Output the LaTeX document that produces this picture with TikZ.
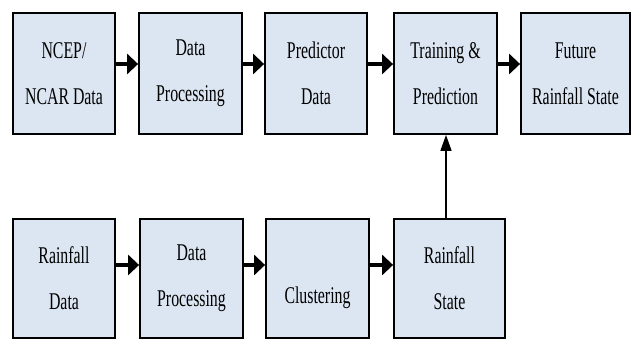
\documentclass[tikz,border=0pt]{standalone}
\usepackage{fontspec}
\setmainfont[FakeStretch=0.66]{Liberation Serif}
\usetikzlibrary{arrows.meta}
\definecolor{boxfill}{RGB}{220,230,242}
\tikzset{
  stepbox/.style={draw=black, line width=1.8pt, fill=boxfill, inner sep=0pt,
    align=center, font=\fontsize{24}{46}\selectfont},
  flowarr/.style={line width=4.5pt, -{Triangle[width=20pt,length=11pt]}},
  uparr/.style={line width=1.6pt, -{Triangle[width=11pt,length=16pt]}}
}
\begin{document}
\begin{tikzpicture}[x=1pt,y=1pt]
\fill[white] (0,0) rectangle (632,340);
\useasboundingbox (0,0) rectangle (632,340);
% top row
\node[stepbox, minimum width=102pt, minimum height=121pt] (n1) at (64,266.5) {NCEP/\\NCAR Data};
\node[stepbox, minimum width=103pt, minimum height=121pt] (n2) at (190.5,266.5) {Data\\Processing};
\node[stepbox, minimum width=102pt, minimum height=121pt] (n3) at (316,266.5) {Predictor\\Data};
\node[stepbox, minimum width=103pt, minimum height=121pt] (n4) at (445.5,266.5) {Training \&\\Prediction};
\node[stepbox, minimum width=109pt, minimum height=121pt] (n5) at (575.5,266.5) {Future\\Rainfall State};
% bottom row
\node[stepbox, minimum width=102pt, minimum height=119pt] (m1) at (64,61.5) {Rainfall\\Data};
\node[stepbox, minimum width=103pt, minimum height=119pt] (m2) at (191.5,61.5) {Data\\Processing};
\node[stepbox, minimum width=103pt, minimum height=119pt, text height=0pt, text depth=0pt] (m3) at (317.5,61.5) {\raisebox{-25pt}{Clustering}};
\node[stepbox, minimum width=111pt, minimum height=119pt] (m4) at (449.5,61.5) {\fontsize{24}{39}\selectfont Rainfall\\State};
% arrows top
\draw[flowarr] ([yshift=9.5pt]n1.east) -- ([yshift=9.5pt]n2.west);
\draw[flowarr] ([yshift=9.5pt]n2.east) -- ([yshift=9.5pt]n3.west);
\draw[flowarr] ([yshift=9.5pt]n3.east) -- ([yshift=9.5pt]n4.west);
\draw[flowarr] ([yshift=9.5pt]n4.east) -- ([yshift=9.5pt]n5.west);
% arrows bottom
\draw[flowarr] ([yshift=13.5pt]m1.east) -- ([yshift=13.5pt]m2.west);
\draw[flowarr] ([yshift=13.5pt]m2.east) -- ([yshift=13.5pt]m3.west);
\draw[flowarr] ([yshift=13.5pt]m3.east) -- ([yshift=13.5pt]m4.west);
% vertical
\draw[uparr] (m4.north -| 446,0) -- (n4.south -| 446,0);
\end{tikzpicture}
\end{document}
